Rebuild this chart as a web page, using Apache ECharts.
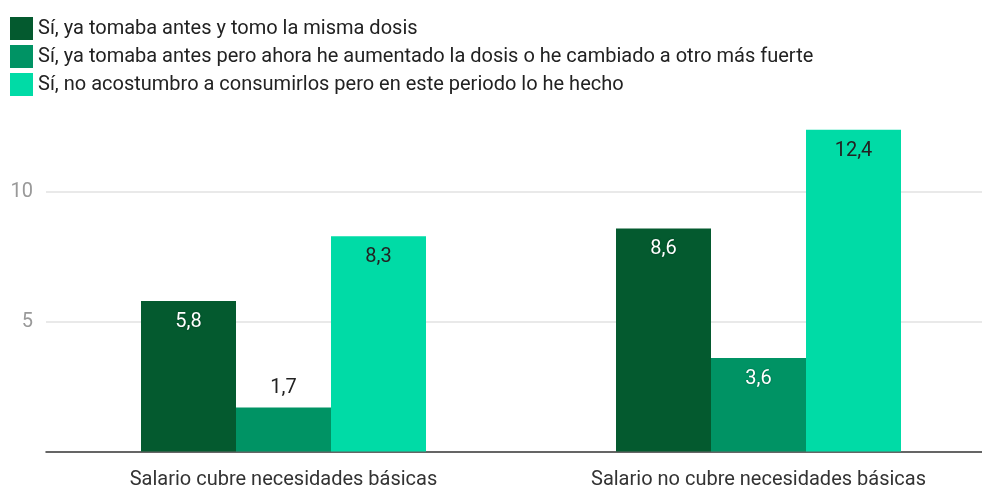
<!DOCTYPE html>
<html>
<head>
<meta charset="utf-8">
<script src="https://cdn.jsdelivr.net/npm/echarts@6/dist/echarts.min.js"></script>
<style>
  html, body { margin: 0; padding: 0; background: #fff; }
  #chart { width: 982px; height: 486px; }
</style>
</head>
<body>
<div id="chart"></div>
<script>
const categories = ['Salario cubre necesidades básicas', 'Salario no cubre necesidades básicas'];
const seriesNames = [
  'Sí, ya tomaba antes y tomo la misma dosis',
  'Sí, ya tomaba antes pero ahora he aumentado la dosis o he cambiado a otro más fuerte',
  'Sí, no acostumbro a consumirlos pero en este periodo lo he hecho'
];
const sameDose = [5.8, 8.6];
const increasedDose = [1.7, 3.6];
const newUse = [8.3, 12.4];
const yTicks = [5, 10];

const colors = ['#045a2f', '#009364', '#00dba6'];
const labelColors = ['#ffffff', '#ffffff', '#222222'];

const fmt = v => String(v).replace('.', ',');

function makeSeries(name, values, idx) {
  return {
    name: name,
    type: 'bar',
    barGap: '0%',
    barCategoryGap: '40%',
    itemStyle: { color: colors[idx] },
    data: values.map(v => {
      const small = v < 3;
      return {
        value: v,
        label: {
          show: true,
          position: small ? 'top' : 'insideTop',
          distance: small ? 9 : 11,
          color: small ? '#222222' : labelColors[idx],
          textShadowColor: (!small && idx < 2) ? 'rgba(0,0,0,0.35)' : 'transparent',
          textShadowBlur: (!small && idx < 2) ? 2 : 0,
          fontSize: 20,
          fontFamily: 'Roboto',
          formatter: p => fmt(p.value)
        }
      };
    })
  };
}

const chart = echarts.init(document.getElementById('chart'), null, { renderer: 'canvas' });
chart.setOption({
  animation: false,
  textStyle: { fontFamily: 'Roboto' },
  legend: {
    orient: 'vertical',
    left: 10,
    top: 17,
    padding: 0,
    itemWidth: 23,
    itemHeight: 23,
    itemGap: 5,
    icon: 'rect',
    textStyle: { fontSize: 20, color: '#222222', fontFamily: 'Roboto' },
    data: seriesNames
  },
  grid: {
    left: 46, width: 950, top: 101.3, bottom: 34.5,
    containLabel: false,
    outerBoundsMode: 'none'
  },
  xAxis: {
    type: 'category',
    data: categories,
    axisTick: { show: false },
    axisLine: { lineStyle: { color: '#333333', width: 1.5 } },
    axisLabel: { fontSize: 20, color: '#333333', margin: 18, fontFamily: 'Roboto' }
  },
  yAxis: {
    type: 'value',
    min: 0,
    max: 13.5,
    interval: 5,
    axisLine: { show: false },
    axisTick: { show: false },
    axisLabel: {
      fontSize: 20,
      color: '#999999',
      margin: 13,
      fontFamily: 'Roboto',
      formatter: v => (yTicks.indexOf(v) >= 0 ? String(v) : '')
    },
    splitLine: {
      lineStyle: { color: ['transparent', '#e2e2e2', '#e2e2e2', 'transparent'], width: 1.5 }
    }
  },
  series: [
    makeSeries(seriesNames[0], sameDose, 0),
    makeSeries(seriesNames[1], increasedDose, 1),
    makeSeries(seriesNames[2], newUse, 2)
  ]
});
</script>
</body>
</html>
